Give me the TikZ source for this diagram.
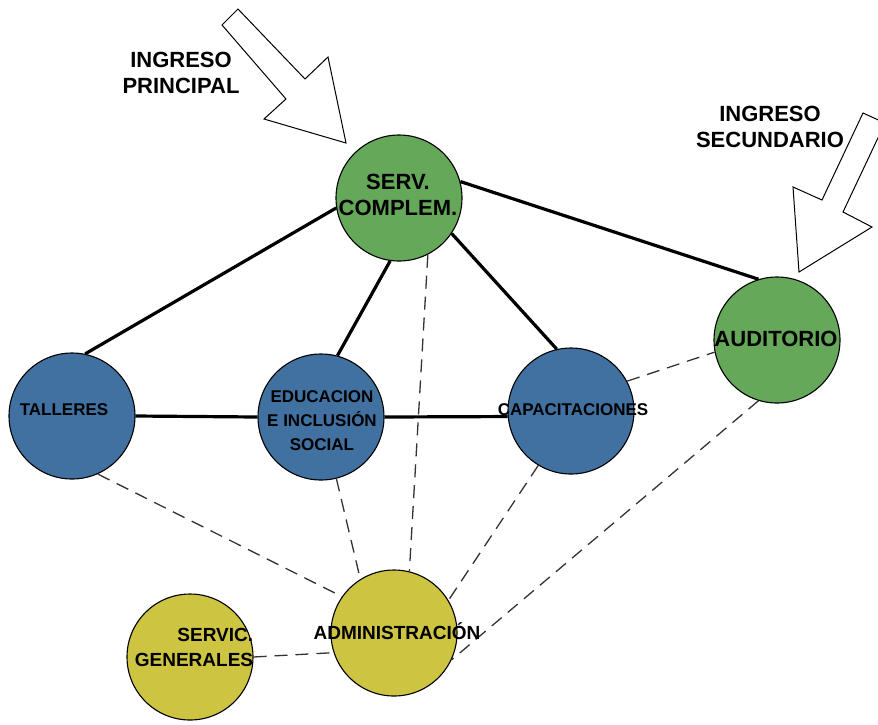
\documentclass[tikz,border=0pt]{standalone}
\usepackage{fontspec}
\setmainfont{Liberation Sans}
\usetikzlibrary{positioning}
\definecolor{verdesala}{RGB}{101,168,90}
\definecolor{azulsala}{RGB}{64,113,160}
\definecolor{amarillosala}{RGB}{205,196,66}
\tikzset{
  sala/.style={circle, draw=black, line width=1.1pt, minimum size=126pt, inner sep=0pt},
  rotulo/.style={font=\bfseries, align=center, inner sep=0pt},
  flujo/.style={line width=3.2pt, black},
  tenue/.style={line width=1.3pt, black!80, dash pattern=on 13pt off 8pt},
  ingreso/.style={draw=black, line width=1pt, fill=white, line join=miter}
}
\newcommand{\tamG}{\fontsize{22}{26}\selectfont}
\newcommand{\tamM}{\fontsize{19}{25}\selectfont}
\newcommand{\tamP}{\fontsize{17}{24}\selectfont}
\begin{document}
\begin{tikzpicture}[x=1pt, y=-1pt]
		\useasboundingbox (0,0) rectangle (878,724);
		\clip (0,0) rectangle (878,724);
		% circulos de las salas
		\node[sala, fill=verdesala] (serv) at (399,198) {};
		\node[sala, fill=verdesala] (audit) at (777,340) {};
		\node[sala, fill=azulsala] (talleres) at (72,416) {};
		\node[sala, fill=azulsala] (educ) at (321,417) {};
		\node[sala, fill=azulsala] (capac) at (571,411) {};
		\node[sala, fill=amarillosala] (admin) at (394,633) {};
		\node[sala, fill=amarillosala] (servic) at (190,657) {};
		% relaciones directas
		\foreach \a/\b in {serv.189/talleres.78, serv.262/educ.75, serv.326/capac.103, serv.15/audit.107, talleres.east/educ.west, educ.east/capac.185} {
			\draw[flujo] (\a) -- (\b);
		}
		% relaciones indirectas
		\foreach \a/\b in {talleres.294/admin.145, educ.284/admin.122, serv.297/admin.76, capac.239/admin.31, capac.28/audit.191, audit.253/admin.335, servic.0/admin.198} {
			\draw[tenue] (\a) -- (\b);
		}
		% rotulos
		\node[rotulo, font=\bfseries\tamG] (tserv) at (398,195) {SERV.\\COMPLEM.};
		\node[rotulo, font=\bfseries\tamG] (taudit) at (776,339) {AUDITORIO};
		\node[rotulo, font=\bfseries\tamP] (ttalleres) at (64,410) {TALLERES};
		\node[rotulo, font=\bfseries\tamP] (teduc) at (322,421) {EDUCACION\\E INCLUSIÓN\\SOCIAL};
		\node[rotulo, font=\bfseries\tamP] (tcapac) at (573,410) {CAPACITACIONES};
		\node[rotulo, font=\bfseries\tamM] (tadmin) at (397,631) {ADMINISTRACIÓN};
		\node[rotulo, font=\bfseries\tamM, align=right] (tservic) at (194,647) {SERVIC.\\GENERALES};
		% ingresos
		\draw[ingreso] (222,25) -- (238,9) -- (305,79) -- (328,57) -- (346,143) -- (264,119) -- (286,99) -- cycle;
		\draw[ingreso] (863,113) -- (822,200) -- (793,187) -- (799,272) -- (872,227) -- (843,212) -- (885,123) -- cycle;
		\node[rotulo, font=\bfseries\tamG] (tprinc) at (181,73) {INGRESO\\PRINCIPAL};
		\node[rotulo, font=\bfseries\tamG] (tsecun) at (770,127) {INGRESO\\SECUNDARIO};
	\end{tikzpicture}
\end{document}
